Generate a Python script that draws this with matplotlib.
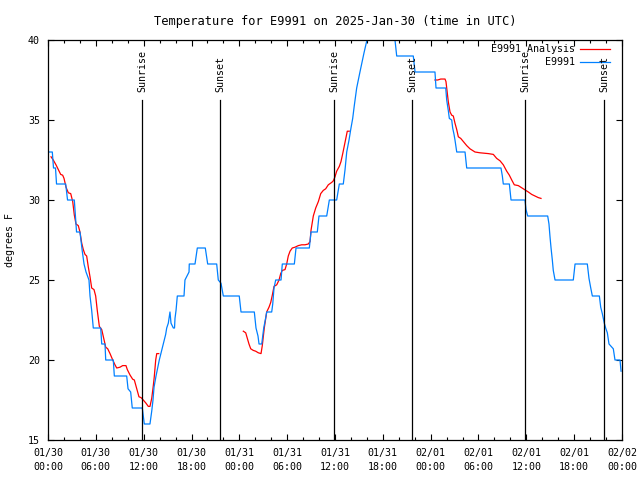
import numpy as np
import matplotlib
matplotlib.use('Agg')
import matplotlib.pyplot as plt
from matplotlib.ticker import MultipleLocator

# hours since 2025-01-30 00:00 UTC
obs_hours = [0.04, 0.54, 0.69, 0.94, 1.07, 2.22, 2.45, 3.30, 3.58, 4.01, 4.30, 4.52, 4.77, 5.14,
             5.27, 5.48, 5.68, 6.61, 6.74, 7.15, 7.24, 8.19, 8.32, 9.87, 10.04, 10.37, 10.57,
             11.83, 12.08, 12.79, 13.01, 13.17, 13.30, 13.55, 13.76, 13.96, 14.26, 14.46, 14.76,
             14.89, 15.09, 15.30, 15.43, 15.72, 15.87, 15.93, 16.06, 16.22, 17.06, 17.18, 17.69,
             17.72, 18.44, 18.73, 19.73, 20.03, 21.16, 21.36, 21.70, 21.99, 23.99, 24.21, 25.88,
             26.09, 26.34, 26.47, 26.81, 26.93, 27.06, 27.35, 27.43, 28.06, 28.19, 28.35, 28.56,
             29.23, 29.39, 30.90, 31.11, 32.78, 32.99, 33.78, 33.99, 34.96, 35.29, 36.21, 36.54,
             37.04, 37.26, 37.47, 37.76, 37.97, 38.22, 38.42, 38.72, 39.13, 39.64, 40.01, 40.64,
             41.65, 42.65, 43.46, 43.74, 45.82, 46.04, 48.54, 48.67, 49.89, 50.01, 50.21, 50.34,
             50.64, 50.76, 50.93, 51.05, 51.27, 52.31, 52.52, 56.82, 56.99, 57.11, 57.87, 58.08,
             59.83, 59.96, 60.17, 62.68, 62.84, 62.97, 63.10, 63.26, 63.38, 63.60, 65.89, 66.11,
             67.65, 67.86, 68.08, 68.28, 69.16, 69.33, 69.53, 69.78, 69.95, 70.16, 70.37, 70.91,
             71.12, 71.75, 71.88]
obs_temp = [33, 33, 32, 32, 31, 31, 30, 30, 28, 28, 26.8, 26, 25.5, 25,
            24, 23.1, 22, 22, 21, 21, 20, 20, 19, 19, 18.2, 18, 17,
            17, 16, 16, 16.8, 17.5, 18.3, 19, 19.5, 20, 20.6, 21, 21.6,
            22, 22.3, 23, 22.3, 22, 22, 22.6, 23.1, 24, 24, 25, 25.5,
            26, 26, 27, 27, 26, 26, 25, 24.8, 24, 24, 23, 23,
            22, 21.5, 21, 21, 21.5, 22, 22.75, 23, 23, 23.5, 24.5, 25,
            25, 26, 26, 27, 27, 28, 28, 29, 29, 30, 30, 31,
            31, 31.9, 33, 33.75, 34.4, 35.1, 35.9, 37, 38, 39.2, 40, 41,
            42, 41, 40.3, 39, 39, 38, 38, 37, 37, 36.25, 35.6, 35.1,
            35, 34.5, 34.1, 33.75, 33, 33, 32, 32, 31.5, 31, 31, 30,
            30, 29.4, 29, 29, 28.5, 27.7, 27, 26.25, 25.6, 25, 25, 26,
            26, 25.1, 24.5, 24, 24, 23.3, 22.9, 22.3, 22, 21.7, 21, 20.7,
            20, 20, 19.3]

ana1_hours = [0.38, 0.66, 1.00, 1.29, 1.59, 1.84, 2.01, 2.26, 2.55, 2.85, 3.10, 3.30, 3.51, 3.80,
              4.01, 4.23, 4.43, 4.64, 4.85, 5.06, 5.27, 5.48, 5.77, 5.98, 6.18, 6.44, 6.74, 6.94,
              7.24, 7.49, 7.78, 8.12, 8.40, 8.62, 9.03, 9.37, 9.78, 9.95, 10.29, 10.62, 10.83,
              11.13, 11.41, 11.67, 11.95, 12.29, 12.58, 12.79, 13.01, 13.21, 13.33, 13.51, 13.64,
              13.89]
ana1_temp = [32.7, 32.5, 32.2, 31.9, 31.6, 31.55, 31.35, 30.8, 30.45, 30.4, 29.9, 29.06, 28.5, 28.4,
             28.0, 27.3, 26.9, 26.6, 26.5, 25.8, 25.2, 24.5, 24.4, 24.0, 23.1, 22.1, 21.9, 21.45,
             20.8, 20.7, 20.4, 20.0, 19.7, 19.5, 19.55, 19.65, 19.65, 19.4, 19.06, 18.8, 18.75,
             18.2, 17.7, 17.65, 17.5, 17.3, 17.1, 17.1, 17.6, 18.4, 18.95, 20.0, 20.4,
             20.4]

ana2_hours = [24.50, 24.80, 25.00, 25.21, 25.43, 25.75, 26.05, 26.38, 26.72, 26.88, 27.01, 27.13,
              27.31, 27.43, 27.72, 27.94, 28.14, 28.35, 28.69, 28.98, 29.19, 29.39, 29.73, 29.94,
              30.14, 30.36, 30.64, 30.98, 31.40, 31.82, 32.24, 32.65, 32.87, 32.99, 33.28, 33.58,
              33.91, 34.21, 34.53, 34.83, 35.16, 35.59, 35.79, 36.00, 36.21, 36.54, 36.75, 36.97,
              37.17, 37.38, 37.54, 37.79]
ana2_temp = [21.8, 21.7, 21.35, 21.0, 20.7, 20.6, 20.55, 20.45, 20.4, 20.9, 21.45, 22.0,
             22.6, 23.0, 23.3, 23.6, 24.06, 24.6, 24.7, 25.0, 25.4, 25.6, 25.65, 26.0,
             26.5, 26.8, 27.0, 27.05, 27.15, 27.2, 27.2, 27.25, 27.4, 28.1, 29.0, 29.5,
             29.9, 30.4, 30.6, 30.7, 30.95, 31.1, 31.2, 31.45, 31.8, 32.1, 32.4, 32.9,
             33.4, 33.95, 34.3, 34.3]

ana3_hours = [48.54, 48.88, 49.26, 49.80, 49.92, 50.09, 50.21, 50.43, 50.64, 50.84, 51.05, 51.27,
              51.47, 51.77, 52.10, 52.52, 52.93, 53.56, 54.19, 55.23, 55.86, 56.28, 56.70, 57.11,
              57.54, 57.87, 58.17, 58.49, 58.99, 59.62, 60.25, 60.67, 61.09, 61.50, 61.84]
ana3_temp = [37.5, 37.5, 37.56, 37.56, 37.4, 36.7, 36.15, 35.5, 35.3, 35.25, 34.8, 34.4,
             33.95, 33.85, 33.65, 33.4, 33.2, 33.0, 32.95, 32.9, 32.85, 32.6, 32.45, 32.2,
             31.8, 31.55, 31.25, 30.95, 30.9, 30.7, 30.5, 30.35, 30.25, 30.15, 30.1]

sun_hours = [11.83, 21.61, 35.91, 45.70, 59.87, 69.78]
sun_labels = ['Sunrise', 'Sunset', 'Sunrise', 'Sunset', 'Sunrise', 'Sunset']

tick_hours = [0, 6, 12, 18, 24, 30, 36, 42, 48, 54, 60, 66, 72]
tick_labels = ['01/30\n00:00', '01/30\n06:00', '01/30\n12:00', '01/30\n18:00',
               '01/31\n00:00', '01/31\n06:00', '01/31\n12:00', '01/31\n18:00',
               '02/01\n00:00', '02/01\n06:00', '02/01\n12:00', '02/01\n18:00',
               '02/02\n00:00']

plt.rcParams['font.family'] = ['DejaVu Sans Mono']
plt.rcParams['font.size'] = 7.2

red = '#ff0000'
blue = '#0080ff'

fig = plt.figure(figsize=(6.4, 4.8), dpi=100)
ax = fig.add_axes([48 / 640, 40 / 480, 574 / 640, 400 / 480])

# analysis line, gaps between runs
ana_x = ana1_hours + [np.nan] + ana2_hours + [np.nan] + ana3_hours
ana_y = ana1_temp + [np.nan] + ana2_temp + [np.nan] + ana3_temp
ax.plot(ana_x, ana_y, color=red, linewidth=0.9)
ax.plot(obs_hours, obs_temp, color=blue, linewidth=0.9)

label_y = 36.75
for h, lab in zip(sun_hours, sun_labels):
    ax.plot([h, h], [15, 36.25], color='black', linewidth=0.9)
    ax.text(h, label_y, lab, rotation=90, ha='center', va='bottom')

ax.set_xlim(0, 72)
ax.set_ylim(15, 40)
ax.set_xticks(tick_hours)
ax.set_xticklabels(tick_labels, linespacing=1.45)
ax.xaxis.set_minor_locator(MultipleLocator(2))
ax.set_yticks([15, 20, 25, 30, 35, 40])
ax.tick_params(which='major', direction='in', length=4.3, width=0.8, top=True, right=True)
ax.tick_params(which='minor', direction='in', length=2.2, width=0.8, top=True, right=True)
ax.tick_params(axis='y', pad=5.8)
ax.tick_params(axis='x', pad=6.0)
for s in ax.spines.values():
    s.set_linewidth(0.9)

ax.set_title('Temperature for E9991 on 2025-Jan-30 (time in UTC)', pad=11)
fig.text(10 / 640, 0.5, 'degrees F', rotation=90, ha='center', va='center')

# gnuplot style key: label right-aligned, sample to the right
key_rows = [('E9991 Analysis', red), ('E9991', blue)]
for i, (lab, col) in enumerate(key_rows):
    yk = 0.9775 - i * 0.0325
    ax.text(0.918, yk, lab, transform=ax.transAxes, ha='right', va='center')
    ax.plot([0.927, 0.979], [yk, yk], transform=ax.transAxes, color=col, linewidth=0.9)

fig.savefig('out.png', dpi=100)
